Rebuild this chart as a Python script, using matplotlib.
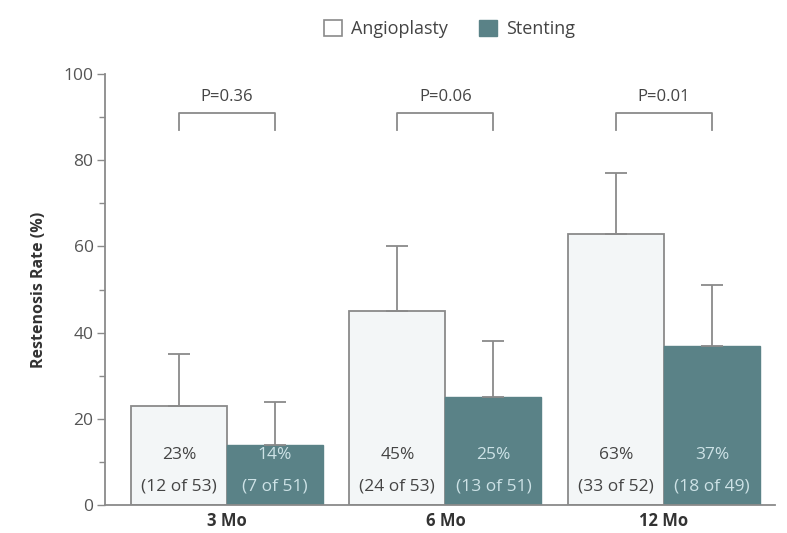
import matplotlib.pyplot as plt
from matplotlib.patches import Patch
from matplotlib.ticker import MultipleLocator

plt.rcParams['font.family'] = ['Open Sans', 'DejaVu Sans']

# restenosis data per follow-up visit
periods = ['3 Mo', '6 Mo', '12 Mo']
angio_rate = [23, 45, 63]
stent_rate = [14, 25, 37]
angio_counts = ['(12 of 53)', '(24 of 53)', '(33 of 52)']
stent_counts = ['(7 of 51)', '(13 of 51)', '(18 of 49)']
angio_upper = [35, 60, 77]
stent_upper = [24, 38, 51]
p_values = ['P=0.36', 'P=0.06', 'P=0.01']

ANGIO_FACE = '#f3f6f7'
EDGE = '#8a8a8a'
STENT_FACE = '#5a8287'
STENT_TEXT = '#cde2e6'
TEXT = '#444444'

fig = plt.figure(figsize=(7.87, 5.33), dpi=100)
ax = fig.add_axes([0.133, 0.0525, 0.852, 0.8085])

width = 0.44
x = list(range(len(periods)))
xa = [i - width / 2 for i in x]
xs = [i + width / 2 for i in x]

ax.bar(xa, angio_rate, width, color=ANGIO_FACE, edgecolor=EDGE, linewidth=1.3, zorder=2)
ax.bar(xs, stent_rate, width, color=STENT_FACE, edgecolor=STENT_FACE, linewidth=1.0, zorder=2)

# upper-only error bars
ax.errorbar(xa, angio_rate, yerr=[[0] * 3, [u - r for u, r in zip(angio_upper, angio_rate)]],
            fmt='none', ecolor=EDGE, elinewidth=1.3, capsize=8, capthick=1.3, zorder=3)
ax.errorbar(xs, stent_rate, yerr=[[0] * 3, [u - r for u, r in zip(stent_upper, stent_rate)]],
            fmt='none', ecolor=EDGE, elinewidth=1.3, capsize=8, capthick=1.3, zorder=3)

for i in x:
    ax.text(xa[i], 11.6, f'{angio_rate[i]}%', ha='center', va='center', fontsize=12.5, color=TEXT, zorder=4)
    ax.text(xa[i], 4.4, angio_counts[i], ha='center', va='center', fontsize=12.5, color=TEXT, zorder=4)
    ax.text(xs[i], 11.6, f'{stent_rate[i]}%', ha='center', va='center', fontsize=12.5, color=STENT_TEXT, zorder=4)
    ax.text(xs[i], 4.4, stent_counts[i], ha='center', va='center', fontsize=12.5, color=STENT_TEXT, zorder=4)
    # significance bracket
    ax.plot([xa[i], xa[i], xs[i], xs[i]], [87, 91, 91, 87], color=EDGE, lw=1.3, clip_on=False)
    ax.text(i, 94.6, p_values[i], ha='center', va='center', fontsize=12, color=TEXT)

ax.set_xlim(-0.56, 2.51)
ax.set_ylim(0, 100)
ax.yaxis.set_major_locator(MultipleLocator(20))
ax.yaxis.set_minor_locator(MultipleLocator(10))
ax.set_xticks(x)
ax.set_xticklabels(periods, fontweight='bold', fontsize=12, color='#333333')
ax.tick_params(axis='x', length=0, pad=5)
ax.tick_params(axis='y', which='major', length=6, width=1, color=EDGE, labelsize=12.5, labelcolor='#555555', pad=2)
ax.tick_params(axis='y', which='minor', length=4, width=1, color=EDGE)
ax.set_ylabel('Restenosis Rate (%)', fontweight='bold', fontsize=11.5, color='#333333', labelpad=12)

for side in ['top', 'right']:
    ax.spines[side].set_visible(False)
for side in ['left', 'bottom']:
    ax.spines[side].set_color(EDGE)
    ax.spines[side].set_linewidth(1.3)

handles = [Patch(facecolor='white', edgecolor=EDGE, linewidth=1.2, label='Angioplasty'),
           Patch(facecolor=STENT_FACE, edgecolor=STENT_FACE, label='Stenting')]
fig.legend(handles=handles, loc='center', bbox_to_anchor=(0.571, 0.945), ncol=2, frameon=False,
           fontsize=13, labelcolor=TEXT, handlelength=1.0, handleheight=1.0, columnspacing=1.7,
           handletextpad=0.5)

fig.savefig('out.png', dpi=100)
